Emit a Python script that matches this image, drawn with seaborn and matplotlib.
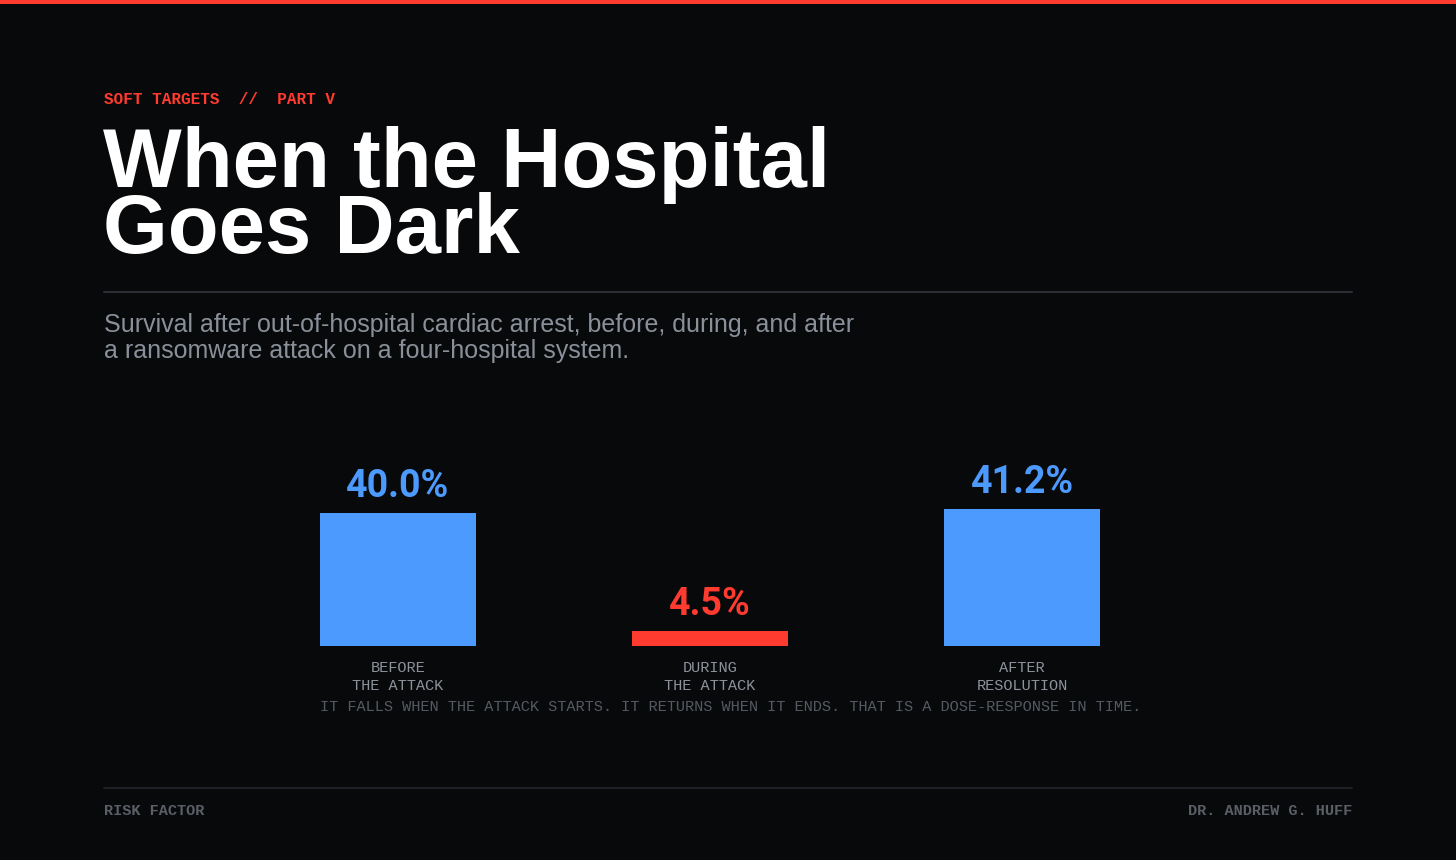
import matplotlib
matplotlib.use("Agg")
import matplotlib.pyplot as plt
from matplotlib.lines import Line2D
from matplotlib.patches import Rectangle
import seaborn as sns

# data
categories = ["BEFORE\nTHE ATTACK", "DURING\nTHE ATTACK", "AFTER\nRESOLUTION"]
survival = [40.0, 4.5, 41.2]
bar_colors = ["#4d9aff", "#ff3b30", "#4d9aff"]
value_labels = ["40.0%", "4.5%", "41.2%"]

BG = "#08090b"
RED = "#ff3b30"
MONO = ["Liberation Mono", "DejaVu Sans Mono"]
SANS = ["Liberation Sans", "DejaVu Sans"]
NARROW = ["Liberation Sans Narrow", "Roboto", "DejaVu Sans"]

sns.set_theme(style="white")
plt.rcParams["font.family"] = SANS

W, H = 1456, 860
fig = plt.figure(figsize=(W / 100, H / 100), dpi=100, facecolor=BG)


def fx(px):
    return px / W


def fy(py):
    return 1 - py / H


# top red strip
fig.add_artist(Rectangle((0, fy(4)), 1, 4 / H, transform=fig.transFigure,
                         color=RED, lw=0))

fig.text(fx(104), fy(104), "SOFT TARGETS  //  PART V", family=MONO,
         weight="bold", size=11.5, color=RED, va="baseline")
fig.text(fx(103), fy(187), "When the Hospital", family=SANS, weight="bold",
         size=60, color="white", va="baseline")
fig.text(fx(103), fy(253), "Goes Dark", family=SANS, weight="bold",
         size=60, color="white", va="baseline")

fig.add_artist(Line2D([fx(104), fx(1352)], [fy(292), fy(292)],
                      transform=fig.transFigure, color="#2a2d33", lw=1.5))

fig.text(fx(104), fy(332), "Survival after out-of-hospital cardiac arrest, before, during, and after",
         family=SANS, size=18, color="#8a9099", va="baseline")
fig.text(fx(104), fy(358), "a ransomware attack on a four-hospital system.",
         family=SANS, size=18, color="#8a9099", va="baseline")

# bars
ax = fig.add_axes([fx(242), 1 - 646 / H, 936 / W, 166.25 / H])
ax.set_facecolor(BG)
sns.barplot(x=categories, y=survival, hue=categories, palette=bar_colors,
            width=0.5, legend=False, saturation=1, linewidth=0, ax=ax)
ax.set_xlim(-0.5, 2.5)
ax.set_ylim(0, 50)
ax.set_yticks([])
ax.set_ylabel("")
for s in ax.spines.values():
    s.set_visible(False)
ax.tick_params(axis="x", length=0, pad=11, colors="#8e939b")
for lab in ax.get_xticklabels():
    lab.set_family(MONO)
    lab.set_fontsize(11)
    lab.set_linespacing(1.3)

for i, (v, txt, c) in enumerate(zip(survival, value_labels, bar_colors)):
    ax.annotate(txt, (i, v), xytext=(0, 11.5), textcoords="offset points",
                ha="center", va="baseline", family=NARROW, weight="bold",
                size=27, color=c)

fig.text(fx(320), fy(711),
         "IT FALLS WHEN THE ATTACK STARTS. IT RETURNS WHEN IT ENDS. THAT IS A DOSE-RESPONSE IN TIME.",
         family=MONO, size=11, color="#555a62", va="baseline")

# footer
fig.add_artist(Line2D([fx(104), fx(1352)], [fy(788), fy(788)],
                      transform=fig.transFigure, color="#22252a", lw=1.2))
fig.text(fx(104), fy(815), "RISK FACTOR", family=MONO, weight="bold",
         size=11, color="#5a5f66", va="baseline")
fig.text(fx(1352), fy(815), "DR. ANDREW G. HUFF", family=MONO, weight="bold",
         size=11, color="#5a5f66", va="baseline", ha="right")

fig.savefig("out.png", dpi=100, facecolor=BG)
